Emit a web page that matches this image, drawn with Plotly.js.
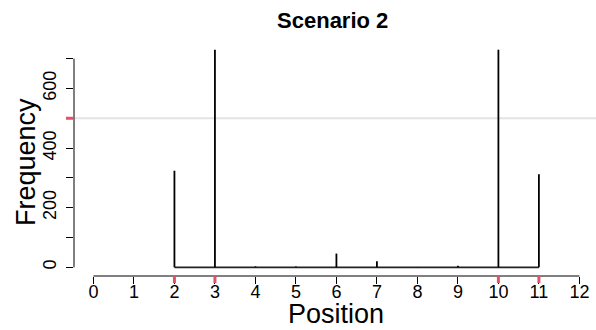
<!DOCTYPE html>
<html>
<head>
<meta charset="utf-8">
<script src="https://cdn.plot.ly/plotly-3.0.1.min.js"></script>
<style>html,body{margin:0;padding:0;background:#fff;}#chart{width:596px;height:330px;}</style>
</head>
<body>
<div id="chart"></div>
<script>
// Data
const positions = [2, 3, 4, 5, 6, 7, 8, 9, 10, 11];
const frequency = [324, 730, 3, 3, 46, 20, 1, 5, 730, 312];
const highlighted = [2, 3, 10, 11];
const threshold = 500;
const xTicks = [0, 1, 2, 3, 4, 5, 6, 7, 8, 9, 10, 11, 12];
const yTicks = [0, 200, 400, 600];
const yMinorTicks = [100, 300, 500, 700];
const yAxisMax = 700;
const xLabel = 'Position';
const yLabel = 'Frequency';
const chartTitle = 'Scenario 2';

const FONT = 'Liberation Sans, Arial, Helvetica, sans-serif';
const RED = '#DF536B';

const sx = [], sy = [];
positions.forEach((p, i) => { sx.push(p, p, null); sy.push(0, frequency[i], null); });

const yMax = Math.max(...frequency);
const yRange = [-0.04 * yMax, 1.04 * yMax];
const xRange = [-0.48, 12.41];

const mT = 40.7, mB = 53.6, mL = 74;
const plotH = 330 - mT - mB;
const plotW = 596 - mL;
const tickPaperY = 7 / plotH;
const tickPaperX = 8 / plotW;

const traces = [
  {x: [Math.min(...positions), Math.max(...positions)], y: [0, 0], mode: 'lines',
   line: {color: '#222', width: 1.8}, hoverinfo: 'skip', showlegend: false},
  {x: sx, y: sy, mode: 'lines', line: {color: '#000', width: 1.8},
   hoverinfo: 'skip', showlegend: false}
];

const shapes = [];
shapes.push({type: 'line', xref: 'paper', yref: 'y', x0: 0, x1: 1, y0: threshold, y1: threshold,
  line: {color: '#e3e3e3', width: 2}, layer: 'below'});
shapes.push({type: 'line', xref: 'x', yref: 'paper', x0: xTicks[0], x1: xTicks[xTicks.length - 1], y0: 0, y1: 0,
  line: {color: '#000', width: 1}});
shapes.push({type: 'line', xref: 'paper', yref: 'y', x0: 0, x1: 0, y0: 0, y1: yAxisMax,
  line: {color: '#000', width: 1}});
highlighted.forEach(h => shapes.push({type: 'line', xref: 'x', yref: 'paper', x0: h, x1: h, y0: 0, y1: -tickPaperY,
  line: {color: RED, width: 3}}));
shapes.push({type: 'line', xref: 'paper', yref: 'y', x0: 0, x1: -tickPaperX, y0: threshold, y1: threshold,
  line: {color: RED, width: 3}});

const annotations = [
  {text: xLabel, xref: 'paper', yref: 'paper', x: (336 - mL) / plotW, y: (330 - mB - 315) / plotH,
   xanchor: 'center', yanchor: 'middle', showarrow: false, font: {size: 27, family: FONT, color: '#000'}},
  {text: yLabel, xref: 'paper', yref: 'paper', x: (26 - mL) / plotW, y: (330 - mB - 162) / plotH,
   xanchor: 'center', yanchor: 'middle', textangle: -90, showarrow: false, font: {size: 27, family: FONT, color: '#000'}}
];

const layout = {
  width: 596, height: 330,
  margin: {l: mL, r: 0, t: mT, b: mB},
  paper_bgcolor: '#fff', plot_bgcolor: '#fff',
  font: {family: FONT, color: '#000'},
  showlegend: false,
  title: {text: '<b>' + chartTitle + '</b>', font: {size: 22, family: FONT, color: '#000'},
    xref: 'container', yref: 'container', x: 332.7 / 596, xanchor: 'center', y: 1 - 20 / 330, yanchor: 'middle'},
  xaxis: {range: xRange, tickmode: 'array', tickvals: xTicks, ticktext: xTicks.map(String),
    ticks: 'outside', ticklen: 7, tickwidth: 1, tickcolor: '#000', showgrid: false, zeroline: false,
    showline: false, tickfont: {size: 18, family: FONT, color: '#000'}, ticklabelstandoff: -8,
    fixedrange: true},
  yaxis: {range: yRange, tickmode: 'array', tickvals: yTicks, ticktext: yTicks.map(String),
    ticks: 'outside', ticklen: 7, tickwidth: 1, tickcolor: '#000', tickangle: -90,
    minor: {tickmode: 'array', tickvals: yMinorTicks, ticks: 'outside', ticklen: 7, tickwidth: 1, tickcolor: '#000', showgrid: false},
    showgrid: false, zeroline: false, showline: false, ticklabelstandoff: 3,
    tickfont: {size: 18, family: FONT, color: '#000'},
    fixedrange: true},
  shapes: shapes,
  annotations: annotations
};

Plotly.newPlot('chart', traces, layout, {staticPlot: true, displayModeBar: false});
</script>
</body>
</html>
